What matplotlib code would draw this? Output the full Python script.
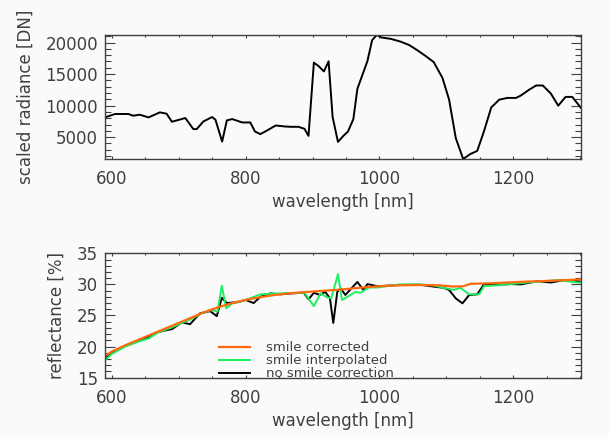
import numpy as np
import matplotlib
matplotlib.use("Agg")
import matplotlib.pyplot as plt
from matplotlib.ticker import MultipleLocator

# radiance spectrum (top panel)
rad_wl = [590, 605, 625, 632, 642, 655, 672, 682, 690, 710,
          722, 727, 737, 750, 755, 765, 772, 780, 795, 807,
          814, 822, 832, 845, 859, 867, 879, 888, 894, 902,
          909, 917, 924, 930, 938, 946, 953, 961, 967, 982,
          989, 996, 1003, 1017, 1031, 1044, 1056, 1069, 1081, 1094,
          1104, 1114, 1125, 1136, 1146, 1156, 1167, 1179, 1191, 1204,
          1211, 1224, 1234, 1244, 1256, 1267, 1278, 1288, 1301]
radiance = [8130, 8670, 8670, 8400, 8560, 8130, 8930, 8720, 7440, 8030,
            6280, 6280, 7490, 8190, 7760, 4300, 7650, 7870, 7330, 7330,
            5900, 5480, 6050, 6850, 6690, 6640, 6640, 6320, 5200, 16810,
            16270, 15420, 17020, 8190, 4250, 5200, 5900, 7870, 12660, 17060,
            20370, 21200, 20800, 20580, 20160, 19620, 18820, 17860, 16900, 14410,
            10950, 4840, 1540, 2340, 2820, 5900, 9720, 10950, 11220, 11220,
            11590, 12550, 13190, 13190, 11910, 9990, 11380, 11380, 9630]

# reflectance (bottom panel)
corr_wl = [590, 600, 620, 640, 660, 680, 700, 720, 740, 760, 780, 800, 820, 840,
           860, 880, 900, 920, 940, 960, 980, 1000, 1030, 1060, 1090, 1110,
           1125, 1136, 1160, 1190, 1220, 1250, 1280, 1301]
corr = [18.5, 19.2, 20.2, 21.1, 22.0, 22.9, 23.8, 24.7, 25.6, 26.35, 27.0, 27.5, 27.9, 28.25,
        28.5, 28.7, 28.85, 29.0, 29.15, 29.35, 29.55, 29.7, 29.85, 29.9, 29.85, 29.65,
        29.7, 30.1, 30.15, 30.3, 30.45, 30.55, 30.7, 30.8]

interp_wl = [590, 600, 620, 640, 655, 670, 690, 705, 720, 735, 750, 758, 764.5, 771,
             780, 795, 810, 822, 840, 860, 888, 902, 912, 922, 928, 938, 944, 957,
             964, 972, 984, 997, 1030, 1060, 1080, 1096, 1111, 1121, 1134, 1149,
             1156, 1181, 1221, 1266, 1296, 1301]
interp = [17.8, 18.8, 20.0, 20.8, 21.3, 22.3, 23.1, 23.8, 24.5, 25.4, 25.9, 25.6, 29.8, 26.15,
          26.95, 27.3, 27.9, 28.4, 28.5, 28.6, 28.65, 26.5, 28.55, 27.9, 27.75, 31.65, 27.5, 28.3,
          28.8, 28.65, 29.5, 29.5, 30.0, 30.0, 29.85, 29.45, 29.1, 29.45, 28.4, 28.4,
          29.7, 29.9, 30.3, 30.7, 30.3, 30.3]

raw_wl = [590, 600, 620, 640, 655, 665, 680, 690, 705, 717, 732, 747, 757, 764.5,
          772, 789, 800, 812, 822, 837, 852, 867, 887, 894, 902, 911, 919, 926,
          931, 937, 942, 949, 967, 976, 982, 997, 1030, 1060, 1084, 1096, 1104,
          1114, 1124, 1134, 1146, 1156, 1176, 1196, 1211, 1236, 1256, 1276, 1296, 1301]
raw = [18.1, 19.0, 20.1, 20.9, 21.5, 22.2, 22.6, 22.8, 23.9, 23.6, 25.35, 25.7, 24.9, 27.85,
       27.0, 27.15, 27.5, 27.0, 28.0, 28.55, 28.4, 28.55, 28.65, 27.6, 28.65, 28.3, 28.8, 27.75,
       23.8, 28.8, 29.36, 28.3, 30.4, 29.1, 30.05, 29.7, 29.9, 29.95, 29.6, 29.45, 29.1,
       27.75, 26.95, 28.3, 28.4, 30.0, 29.9, 30.05, 30.0, 30.5, 30.3, 30.7, 30.55, 30.4]

bg = '#fafafa'
fg = '#404040'
plt.rcParams['font.family'] = 'DejaVu Sans'
plt.rcParams['text.color'] = fg
plt.rcParams['axes.labelcolor'] = fg

fig = plt.figure(figsize=(6.09, 4.37), dpi=100, facecolor=bg)
ax1 = fig.add_axes([0.1724, 0.6362, 0.7816, 0.2838], facecolor=bg)
ax2 = fig.add_axes([0.1724, 0.1357, 0.7816, 0.2847], facecolor=bg)

ax1.plot(rad_wl, radiance, color='black', lw=1.4)
ax1.set_xlim(590, 1301)
ax1.set_ylim(min(radiance), max(radiance))
ax1.yaxis.set_major_locator(MultipleLocator(5000))
ax1.yaxis.set_minor_locator(MultipleLocator(1000))
ax1.set_ylabel('scaled radiance [DN]', fontsize=12, labelpad=8)

ax2.plot(raw_wl, raw, color='black', lw=1.4, label='no smile correction')
ax2.plot(interp_wl, interp, color='#1cf060', lw=1.4, label='smile interpolated')
ax2.plot(corr_wl, corr, color='#ff6a10', lw=1.6, label='smile corrected')
ax2.set_xlim(590, 1301)
ax2.set_ylim(15, 35)
ax2.yaxis.set_major_locator(MultipleLocator(5))
ax2.yaxis.set_minor_locator(MultipleLocator(1))
ax2.set_ylabel('reflectance [%]', fontsize=12, labelpad=8)

h, l = ax2.get_legend_handles_labels()
ax2.legend(h[::-1], l[::-1], loc='lower left', bbox_to_anchor=(0.2395, -0.02),
           frameon=False, fontsize=9.5, borderpad=0, borderaxespad=0,
           handlelength=2.35, handletextpad=1.25, labelspacing=0.0)

for ax in (ax1, ax2):
    ax.xaxis.set_major_locator(MultipleLocator(200))
    ax.xaxis.set_minor_locator(MultipleLocator(50))
    ax.set_xlabel('wavelength [nm]', fontsize=12, labelpad=3.5)
    ax.tick_params(which='both', direction='in', top=True, right=True,
                   colors=fg, labelsize=12, width=0.8)
    ax.tick_params(axis='x', which='major', length=2.2, pad=8)
    ax.tick_params(axis='x', which='minor', length=1.2)
    ax.tick_params(axis='y', which='major', length=7, pad=5)
    ax.tick_params(axis='y', which='minor', length=4)
    for s in ax.spines.values():
        s.set_color(fg)
        s.set_linewidth(1.0)

fig.savefig('out.png', dpi=100, facecolor=bg)
